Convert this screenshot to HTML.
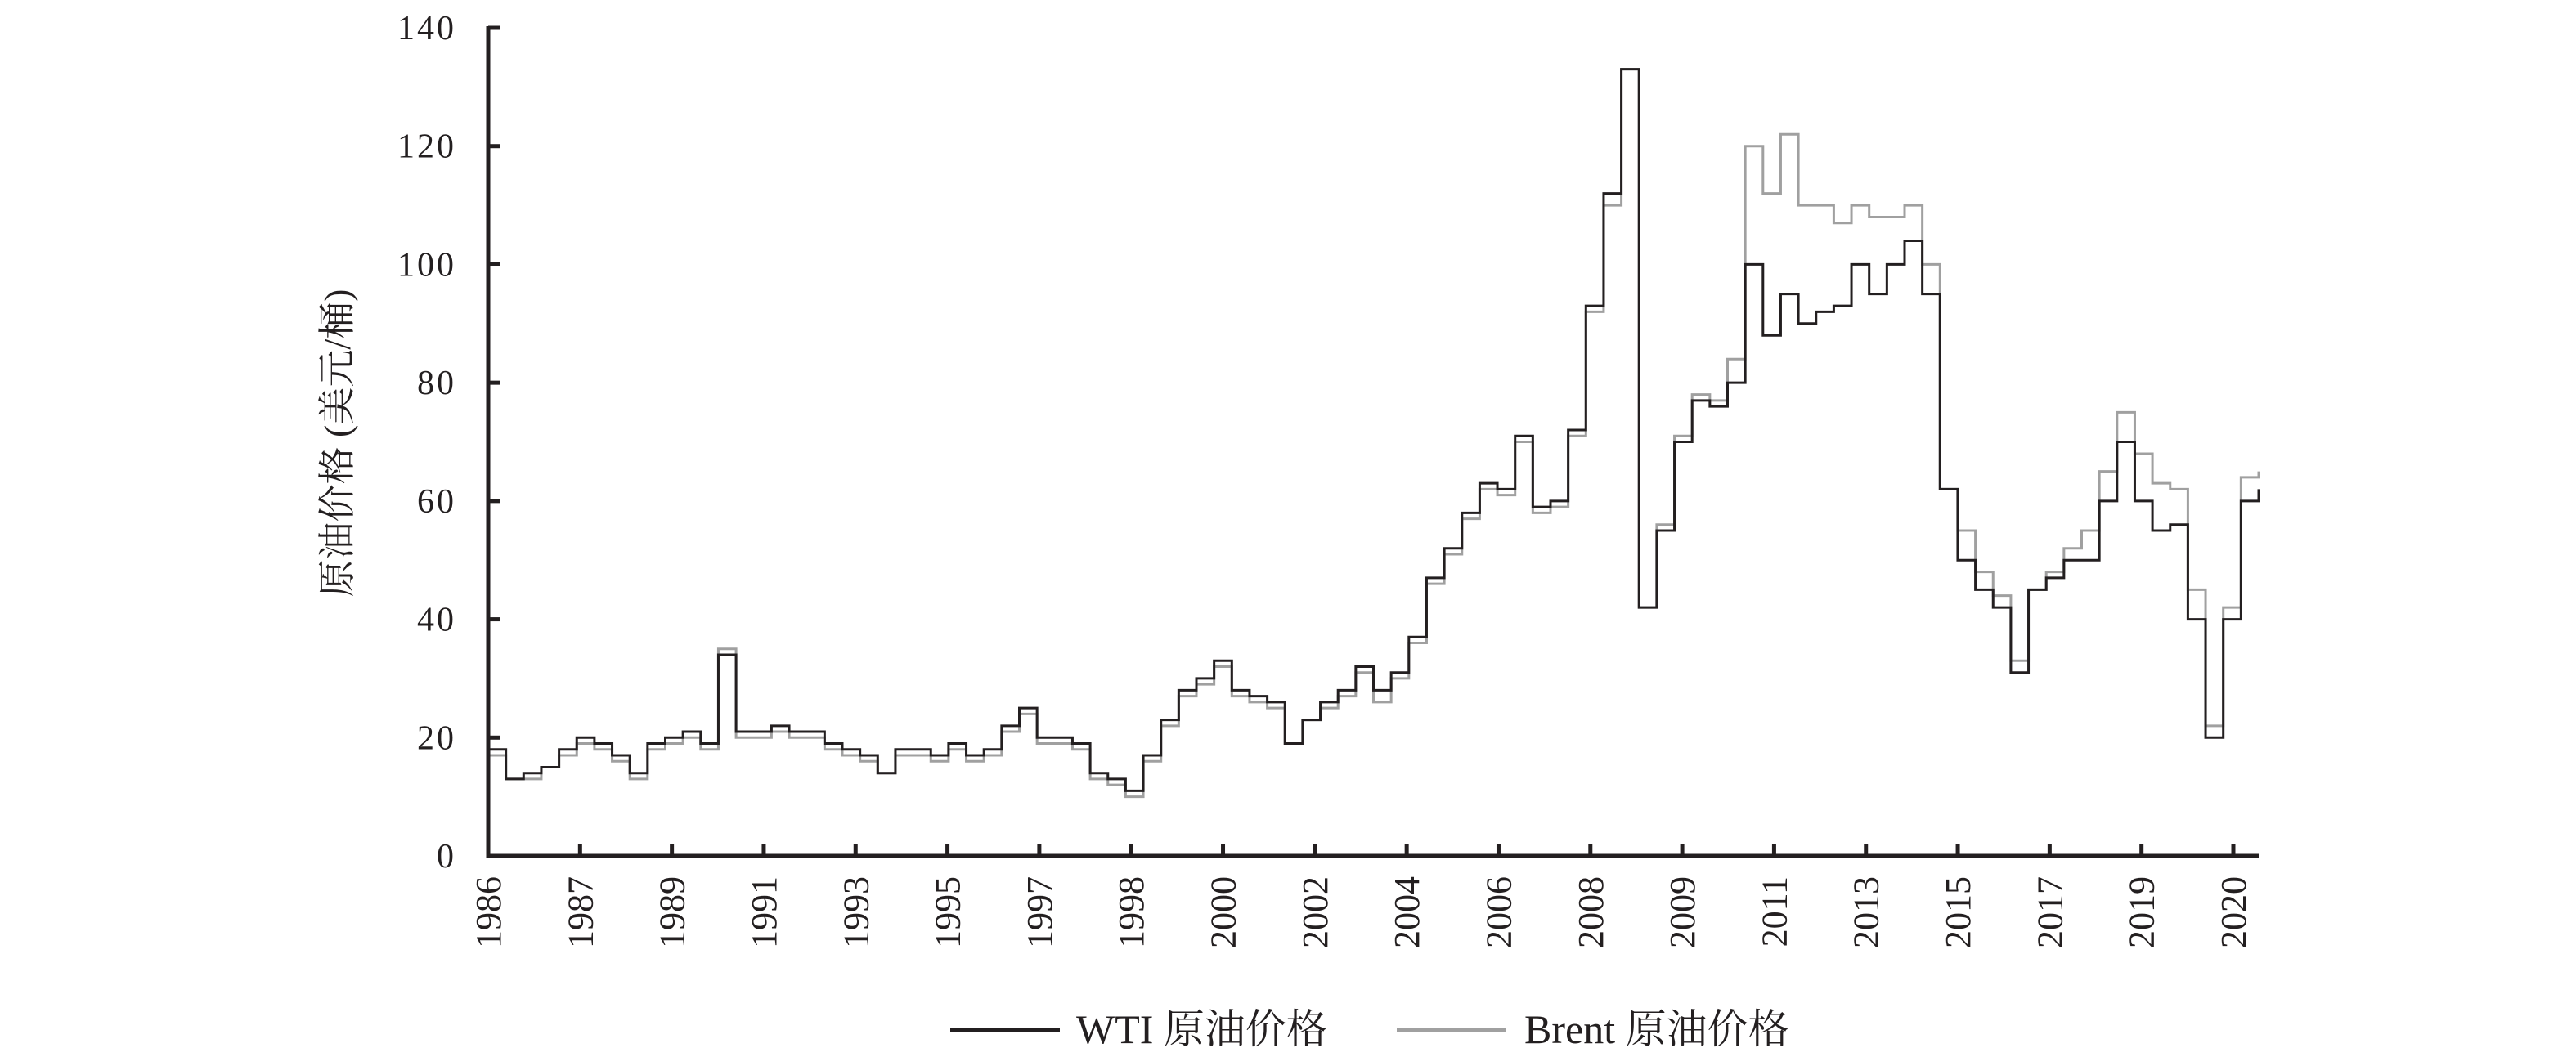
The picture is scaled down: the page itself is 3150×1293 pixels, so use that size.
<!DOCTYPE html>
<html><head><meta charset="utf-8"><style>
html,body{margin:0;padding:0;background:#fff;}
svg{display:block;}
text{font-family:"Liberation Serif","Noto Serif CJK SC","Noto Sans CJK SC",serif;fill:#231f20;}
</style></head><body>
<svg id="chart" width="3150" height="1293" viewBox="0 0 3150 1293" xmlns="http://www.w3.org/2000/svg">
<g id="plot"></g>
<g id="axes"></g>
<text transform="translate(428,542) rotate(-90)" text-anchor="middle" font-size="46">原油价格 (美元/桶)</text>
<g>
<g>
<line x1="1162" y1="1260" x2="1296" y2="1260" stroke="#231f20" stroke-width="4"/>
<text x="1316" y="1276" font-size="50">WTI 原油价格</text>
</g>
<g>
<line x1="1708" y1="1260" x2="1842" y2="1260" stroke="#a0a0a0" stroke-width="4"/>
<text x="1864" y="1276" font-size="50">Brent 原油价格</text>
</g>
</g>
</svg>
<script>
const xLabels=["1986","1987","1989","1991","1993","1995","1997","1998","2000","2002","2004","2006","2008","2009","2011","2013","2015","2017","2019","2020"];
const yTicks=[0,20,40,60,80,100,120,140];
const wti=[18,13,14,15,18,20,19,17,14,19,20,21,19,34,21,21,22,21,21,19,18,17,14,18,18,17,19,17,18,22,25,20,20,19,14,13,11,17,23,28,30,33,28,27,26,19,23,26,28,32,28,31,37,47,52,58,63,62,71,59,60,72,93,112,133,42,55,70,77,76,80,100,88,95,90,92,93,100,95,100,104,95,62,50,45,42,31,45,47,50,50,60,70,60,55,56,40,20,40,60,62];
const brent=[17,13,13,15,17,19,18,16,13,18,19,20,18,35,20,20,21,20,20,18,17,16,14,17,17,16,18,16,17,21,24,19,19,18,13,12,10,16,22,27,29,32,27,26,25,19,23,25,27,31,26,30,36,46,51,57,62,61,70,58,59,71,92,110,133,42,56,71,78,77,84,120,112,122,110,110,107,110,108,108,110,100,62,55,48,44,33,45,48,52,55,65,75,68,63,62,45,22,42,64,65];
const X0=597,X1=2762,Y0=1047,Y140=34,TICK0=597,TICK1=2731;
const NS='http://www.w3.org/2000/svg';
function xs(i){return X0+(X1-X0)*i/(wti.length-1);}
function ys(v){return Y0-(Y0-Y140)*v/140;}
function xt(i){return TICK0+(TICK1-TICK0)*i/(xLabels.length-1);}
const plot=document.getElementById('plot'),axes=document.getElementById('axes');
function stepPath(arr){let d='M'+xs(0)+','+ys(arr[0]);for(let i=1;i<arr.length;i++){d+=' H'+xs(i)+' V'+ys(arr[i]);}return d;}
const pb=document.createElementNS(NS,'path');


pb.setAttribute('d',stepPath(brent));pb.setAttribute('fill','none');pb.setAttribute('stroke','#a0a0a0');pb.setAttribute('stroke-width','3');
plot.appendChild(pb);
const pw=document.createElementNS(NS,'path');


pw.setAttribute('d',stepPath(wti));pw.setAttribute('fill','none');pw.setAttribute('stroke','#231f20');pw.setAttribute('stroke-width','3');
plot.appendChild(pw);
function ln(x1,y1,x2,y2,name){const l=document.createElementNS(NS,'line');


l.setAttribute('x1',x1);l.setAttribute('y1',y1);l.setAttribute('x2',x2);l.setAttribute('y2',y2);l.setAttribute('stroke','#231f20');l.setAttribute('stroke-width','5');axes.appendChild(l);}
ln(X0,Y140-2,X0,Y0+2,'y-axis-line');
ln(X0-2,Y0,X1,Y0,'x-axis-line');
yTicks.forEach(v=>{ln(X0,ys(v),X0+15,ys(v),'y-tick');
const t=document.createElementNS(NS,'text');


t.setAttribute('x',558);t.setAttribute('y',ys(v)+14);t.setAttribute('text-anchor','end');t.setAttribute('font-size','42');t.setAttribute('letter-spacing','3');t.textContent=v;axes.appendChild(t);});
xLabels.forEach((s,i)=>{const x=xt(i);ln(x,Y0,x,Y0-14,'x-tick');
const t=document.createElementNS(NS,'text');


t.setAttribute('transform','translate('+(x+15)+',1072) rotate(-90)');t.setAttribute('text-anchor','end');t.setAttribute('font-size','44');t.textContent=s;axes.appendChild(t);});
</script>
</body></html>
